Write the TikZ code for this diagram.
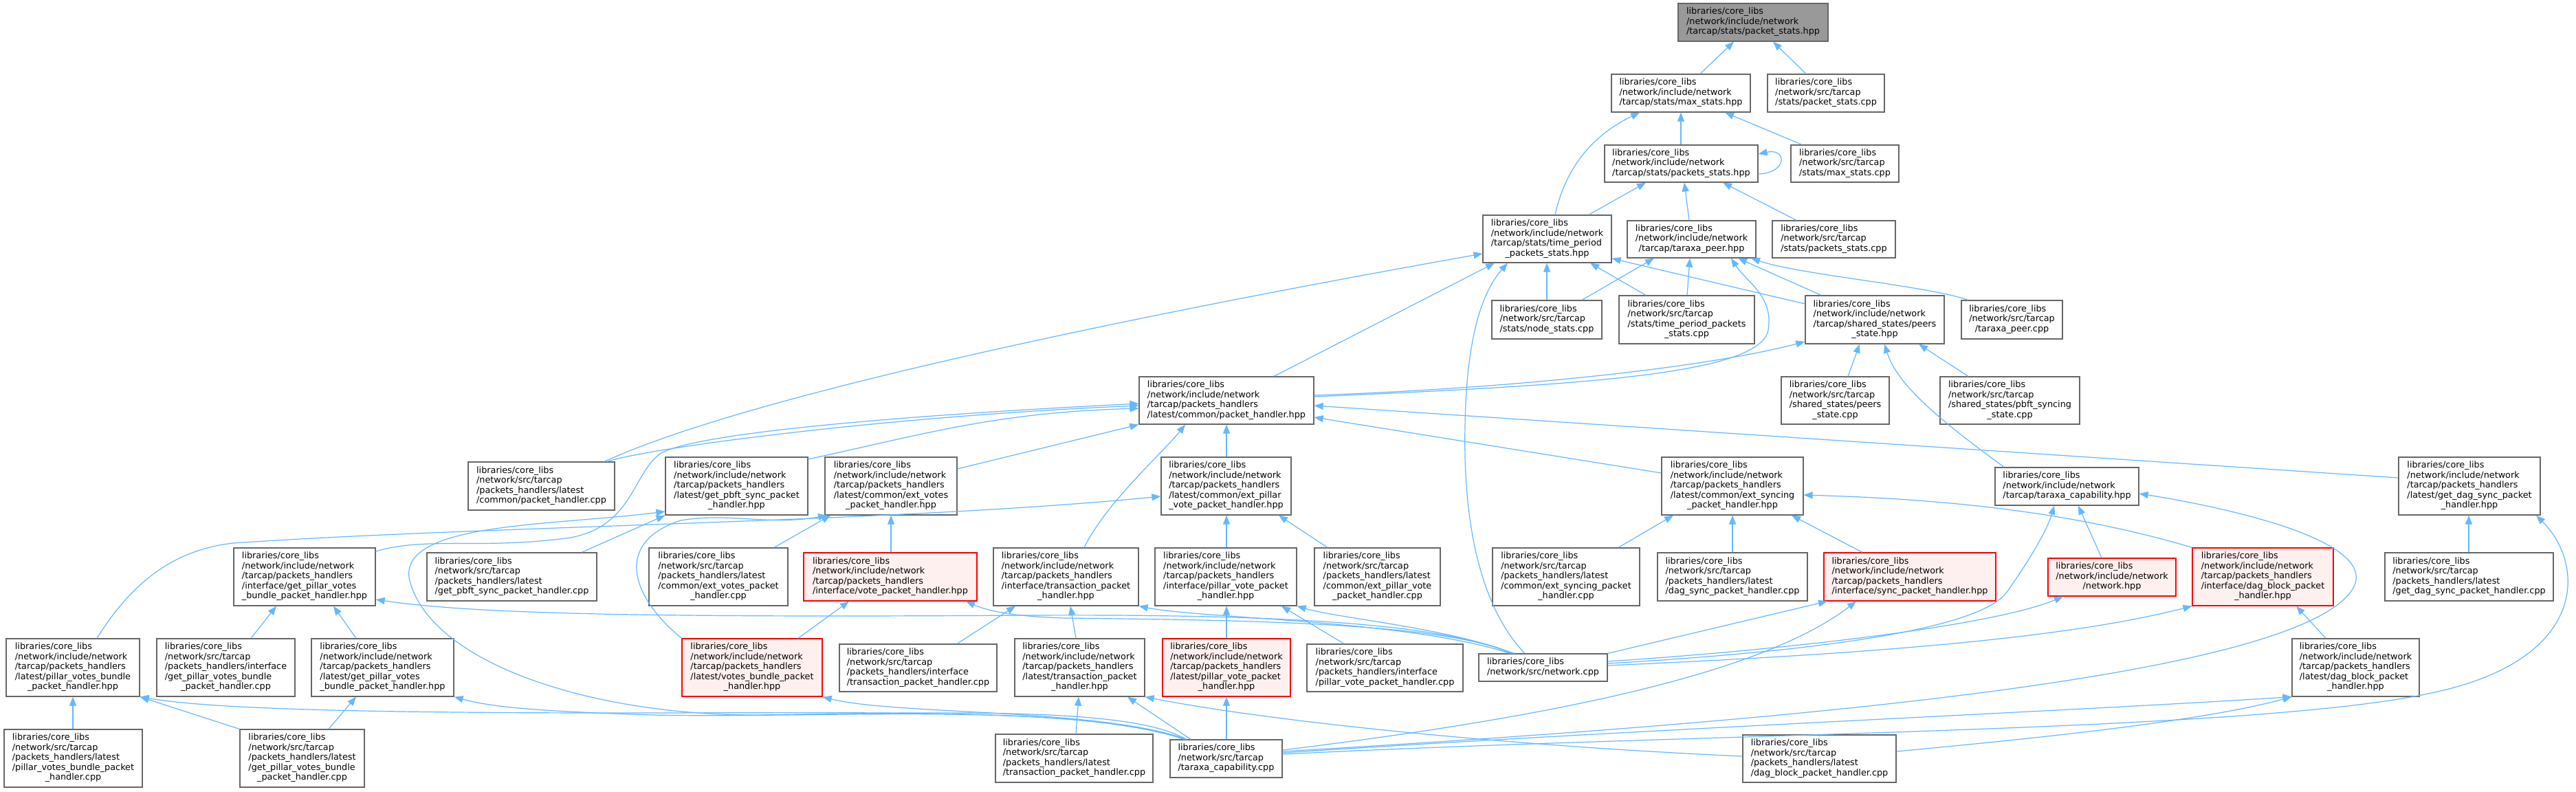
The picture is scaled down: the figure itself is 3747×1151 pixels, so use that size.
\documentclass[tikz,border=0pt]{standalone}
\usepackage{fontspec}
\setmainfont{DejaVu Sans}
\usetikzlibrary{arrows.meta}
\definecolor{dgray}{HTML}{666666}
\definecolor{rootgray}{HTML}{999999}
\definecolor{incfill}{HTML}{FFF0F0}
\definecolor{incdraw}{HTML}{FF0000}
\definecolor{edgeblue}{HTML}{63B8FF}
\newcommand{\nfont}{\fontsize{6.4}{7.25}\selectfont}
\newcommand{\lc}[1]{\multicolumn{1}{@{}c@{}}{#1}}
\newcommand{\tb}[1]{\begin{tabular}{@{}l@{}}#1\end{tabular}}
\newcommand{\Lcl}{libraries/core\_libs}
\newcommand{\Nin}{/network/include/network}
\newcommand{\Nst}{/network/src/tarcap}
\newcommand{\Tph}{/tarcap/packets\_handlers}
\newcommand{\bx}[7]{\pgfmathsetmacro\myBW{(#4-#2)*0.5}\pgfmathsetmacro\myBH{(#5-#3)*0.5}%
  \node[#6,minimum width=\myBW pt,minimum height=\myBH pt] (#1) at ({(#2+#4)/2},{(#3+#5)/2}) {#7};}
\tikzset{
  nb/.style={draw=dgray, fill=white, line width=0.6pt, inner sep=0pt, font=\nfont},
  rootbox/.style={nb, fill=rootgray},
  incbox/.style={nb, draw=incdraw, fill=incfill},
  dep/.style={draw=edgeblue, line width=0.6pt, -{Triangle[length=6.5pt,width=5pt]}}
}
\begin{document}
\begin{tikzpicture}[x=0.5pt,y=-0.5pt]
\fill[white] (0,0) rectangle (3747,1151);
\useasboundingbox (0,0) rectangle (3747,1151);
% nodes
\bx{n0}{2441}{5}{2659}{60}{rootbox}{\tb{\Lcl\\\Nin\\\lc{/tarcap/stats/packet\_stats.hpp}}}
\bx{n1}{2344}{108}{2546}{163}{nb}{\tb{\Lcl\\\Nin\\\lc{/tarcap/stats/max\_stats.hpp}}}
\bx{n2}{2571}{108}{2741}{163}{nb}{\tb{\Lcl\\\Nst\\\lc{/stats/packet\_stats.cpp}}}
\bx{n3}{2334}{211}{2557}{265}{nb}{\tb{\Lcl\\\Nin\\\lc{/tarcap/stats/packets\_stats.hpp}}}
\bx{n4}{2605}{211}{2762}{265}{nb}{\tb{\Lcl\\\Nst\\\lc{/stats/max\_stats.cpp}}}
\bx{n5}{2157}{313}{2344}{382}{nb}{\tb{\Lcl\\\Nin\\/tarcap/stats/time\_period\\\lc{\_packets\_stats.hpp}}}
\bx{n6}{2367}{321}{2554}{375}{nb}{\tb{\Lcl\\\Nin\\\lc{/tarcap/taraxa\_peer.hpp}}}
\bx{n7}{2578}{321}{2757}{375}{nb}{\tb{\Lcl\\\Nst\\\lc{/stats/packets\_stats.cpp}}}
\bx{n8}{2170}{437}{2330}{493}{nb}{\tb{\Lcl\\\Nst\\\lc{/stats/node\_stats.cpp}}}
\bx{n9}{2355}{430}{2552}{500}{nb}{\tb{\Lcl\\\Nst\\/stats/time\_period\_packets\\\lc{\_stats.cpp}}}
\bx{n10}{2626}{430}{2828}{500}{nb}{\tb{\Lcl\\\Nin\\/tarcap/shared\_states/peers\\\lc{\_state.hpp}}}
\bx{n11}{2853}{437}{3000}{493}{nb}{\tb{\Lcl\\\Nst\\\lc{/taraxa\_peer.cpp}}}
\bx{n12}{1657}{548}{1911}{617}{nb}{\tb{\Lcl\\\Nin\\\Tph\\\lc{/latest/common/packet\_handler.hpp}}}
\bx{n13}{2591}{548}{2748}{617}{nb}{\tb{\Lcl\\\Nst\\/shared\_states/peers\\\lc{\_state.cpp}}}
\bx{n14}{2822}{548}{3025}{617}{nb}{\tb{\Lcl\\\Nst\\/shared\_states/pbft\_syncing\\\lc{\_state.cpp}}}
\bx{n15}{681}{672}{894}{742}{nb}{\tb{\Lcl\\\Nst\\/packets\_handlers/latest\\\lc{/common/packet\_handler.cpp}}}
\bx{n16}{968}{665}{1175}{749}{nb}{\tb{\Lcl\\\Nin\\\Tph\\/latest/get\_pbft\_sync\_packet\\\lc{\_handler.hpp}}}
\bx{n17}{1200}{665}{1392}{749}{nb}{\tb{\Lcl\\\Nin\\\Tph\\/latest/common/ext\_votes\\\lc{\_packet\_handler.hpp}}}
\bx{n18}{1689}{665}{1878}{749}{nb}{\tb{\Lcl\\\Nin\\\Tph\\/latest/common/ext\_pillar\\\lc{\_vote\_packet\_handler.hpp}}}
\bx{n19}{2417}{665}{2623}{749}{nb}{\tb{\Lcl\\\Nin\\\Tph\\/latest/common/ext\_syncing\\\lc{\_packet\_handler.hpp}}}
\bx{n20}{2902}{680}{3111}{735}{nb}{\tb{\Lcl\\\Nin\\\lc{/tarcap/taraxa\_capability.hpp}}}
\bx{n21}{3489}{665}{3695}{749}{nb}{\tb{\Lcl\\\Nin\\\Tph\\/latest/get\_dag\_sync\_packet\\\lc{\_handler.hpp}}}
\bx{n22}{340}{797}{546}{881}{nb}{\tb{\Lcl\\\Nin\\\Tph\\/interface/get\_pillar\_votes\\\lc{\_bundle\_packet\_handler.hpp}}}
\bx{n23}{621}{804}{868}{874}{nb}{\tb{\Lcl\\\Nst\\/packets\_handlers/latest\\\lc{/get\_pbft\_sync\_packet\_handler.cpp}}}
\bx{n24}{944}{797}{1146}{881}{nb}{\tb{\Lcl\\\Nst\\/packets\_handlers/latest\\/common/ext\_votes\_packet\\\lc{\_handler.cpp}}}
\bx{n25}{1169}{804}{1421}{874}{incbox}{\tb{\Lcl\\\Nin\\\Tph\\\lc{/interface/vote\_packet\_handler.hpp}}}
\bx{n26}{1445}{797}{1656}{881}{nb}{\tb{\Lcl\\\Nin\\\Tph\\/interface/transaction\_packet\\\lc{\_handler.hpp}}}
\bx{n27}{1680}{797}{1886}{881}{nb}{\tb{\Lcl\\\Nin\\\Tph\\/interface/pillar\_vote\_packet\\\lc{\_handler.hpp}}}
\bx{n28}{1912}{797}{2095}{881}{nb}{\tb{\Lcl\\\Nst\\/packets\_handlers/latest\\/common/ext\_pillar\_vote\\\lc{\_packet\_handler.cpp}}}
\bx{n29}{2171}{797}{2385}{881}{nb}{\tb{\Lcl\\\Nst\\/packets\_handlers/latest\\/common/ext\_syncing\_packet\\\lc{\_handler.cpp}}}
\bx{n30}{2411}{804}{2629}{874}{nb}{\tb{\Lcl\\\Nst\\/packets\_handlers/latest\\\lc{/dag\_sync\_packet\_handler.cpp}}}
\bx{n31}{2653}{804}{2903}{874}{incbox}{\tb{\Lcl\\\Nin\\\Tph\\\lc{/interface/sync\_packet\_handler.hpp}}}
\bx{n32}{2979}{812}{3165}{867}{incbox}{\tb{\Lcl\\\Nin\\\lc{/network.hpp}}}
\bx{n33}{3189}{797}{3394}{881}{incbox}{\tb{\Lcl\\\Nin\\\Tph\\/interface/dag\_block\_packet\\\lc{\_handler.hpp}}}
\bx{n34}{3469}{804}{3714}{874}{nb}{\tb{\Lcl\\\Nst\\/packets\_handlers/latest\\\lc{/get\_dag\_sync\_packet\_handler.cpp}}}
\bx{n35}{9}{929}{203}{1013}{nb}{\tb{\Lcl\\\Nin\\\Tph\\/latest/pillar\_votes\_bundle\\\lc{\_packet\_handler.hpp}}}
\bx{n36}{228}{929}{429}{1013}{nb}{\tb{\Lcl\\\Nst\\/packets\_handlers/interface\\/get\_pillar\_votes\_bundle\\\lc{\_packet\_handler.cpp}}}
\bx{n37}{453}{929}{660}{1013}{nb}{\tb{\Lcl\\\Nin\\\Tph\\/latest/get\_pillar\_votes\\\lc{\_bundle\_packet\_handler.hpp}}}
\bx{n38}{992}{929}{1196}{1013}{incbox}{\tb{\Lcl\\\Nin\\\Tph\\/latest/votes\_bundle\_packet\\\lc{\_handler.hpp}}}
\bx{n39}{1221}{937}{1450}{1006}{nb}{\tb{\Lcl\\\Nst\\/packets\_handlers/interface\\\lc{/transaction\_packet\_handler.cpp}}}
\bx{n40}{1476}{929}{1665}{1013}{nb}{\tb{\Lcl\\\Nin\\\Tph\\/latest/transaction\_packet\\\lc{\_handler.hpp}}}
\bx{n41}{1691}{929}{1877}{1013}{incbox}{\tb{\Lcl\\\Nin\\\Tph\\/latest/pillar\_vote\_packet\\\lc{\_handler.hpp}}}
\bx{n42}{1901}{937}{2128}{1006}{nb}{\tb{\Lcl\\\Nst\\/packets\_handlers/interface\\\lc{/pillar\_vote\_packet\_handler.cpp}}}
\bx{n43}{2151}{951}{2338}{991}{nb}{\tb{\Lcl\\\lc{/network/src/network.cpp}}}
\bx{n44}{3334}{929}{3519}{1013}{nb}{\tb{\Lcl\\\Nin\\\Tph\\/latest/dag\_block\_packet\\\lc{\_handler.hpp}}}
\bx{n45}{6}{1061}{207}{1145}{nb}{\tb{\Lcl\\\Nst\\/packets\_handlers/latest\\/pillar\_votes\_bundle\_packet\\\lc{\_handler.cpp}}}
\bx{n46}{349}{1061}{530}{1145}{nb}{\tb{\Lcl\\\Nst\\/packets\_handlers/latest\\/get\_pillar\_votes\_bundle\\\lc{\_packet\_handler.cpp}}}
\bx{n47}{1448}{1068}{1677}{1138}{nb}{\tb{\Lcl\\\Nst\\/packets\_handlers/latest\\\lc{/transaction\_packet\_handler.cpp}}}
\bx{n48}{1702}{1076}{1865}{1131}{nb}{\tb{\Lcl\\\Nst\\\lc{/taraxa\_capability.cpp}}}
\bx{n49}{2535}{1069}{2758}{1138}{nb}{\tb{\Lcl\\\Nst\\/packets\_handlers/latest\\\lc{/dag\_block\_packet\_handler.cpp}}}
% edges: top part
\draw[dep] (n1.north -| 2473,0) -- (n0.south -| 2522,0);
\draw[dep] (n2.north -| 2627,0) -- (n0.south -| 2579,0);
\draw[dep] (n3.north -| 2445,0) -- (n1.south -| 2445,0);
\draw[dep] (n4.north -| 2621,0) -- (n1.south -| 2509,0);
\draw[dep] (n5.north -| 2262,0) .. controls (2278,240) and (2320,195) .. (n1.south -| 2385,0);
\draw[dep] (n3.east |- 0,253) .. controls (2600,252) and (2600,215) .. (n3.east |- 0,224);
\draw[dep] (n5.north -| 2311,0) -- (n3.south -| 2394,0);
\draw[dep] (n6.north -| 2457,0) -- (n3.south -| 2450,0);
\draw[dep] (n7.north -| 2613,0) -- (n3.south -| 2506,0);
% into time_period
\draw[dep] (n15.north -| 879,0) .. controls (1100,570) and (1700,450) .. (n5.west |- 0,369);
\draw[dep] (n12.north -| 1853,0) -- (n5.south -| 2174,0);
\draw[dep] (n43.north -| 2218,0) .. controls (2150,880) and (2128,750) .. (2131,620) .. controls (2133,480) and (2160,420) .. (n5.south -| 2193,0);
\draw[dep] (n8.north -| 2250,0) -- (n5.south -| 2250,0);
\draw[dep] (n9.north -| 2394,0) -- (n5.south -| 2313,0);
\draw[dep] (n10.west |- 0,442) -- (n5.east |- 0,376);
% into taraxa_peer
\draw[dep] (n8.north -| 2301,0) -- (n6.south -| 2406,0);
\draw[dep] (n9.north -| 2454,0) -- (n6.south -| 2458,0);
\draw[dep] (n12.east |- 0,577) .. controls (2300,560) and (2560,545) .. (2572,480) .. controls (2580,430) and (2540,410) .. (n6.south -| 2518,0);
\draw[dep] (n10.north -| 2649,0) -- (n6.south -| 2528,0);
\draw[dep] (n11.north -| 2863,0) .. controls (2800,415) and (2620,400) .. (n6.south -| 2547,0);
% into peers_state
\draw[dep] (n12.east |- 0,575) .. controls (2200,565) and (2480,535) .. (n10.west |- 0,497);
\draw[dep] (n13.north -| 2688,0) -- (n10.south -| 2705,0);
\draw[dep] (n20.north -| 2915,0) .. controls (2820,610) and (2760,560) .. (n10.south -| 2741,0);
\draw[dep] (n14.north -| 2863,0) -- (n10.south -| 2791,0);
% into packet_handler.hpp
\draw[dep] (n15.north -| 883,0) .. controls (950,650) and (1300,605) .. (n12.west |- 0,590);
\draw[dep] (n16.east |- 0,668) .. controls (1350,630) and (1450,600) .. (n12.west |- 0,594);
\draw[dep] (n22.east |- 0,802) .. controls (620,780) and (700,800) .. (830,782) .. controls (920,765) and (920,690) .. (960,660) .. controls (1010,630) and (1300,605) .. (n12.west |- 0,587);
\draw[dep] (n17.east |- 0,682) -- (n12.south west);
\draw[dep] (n18.north -| 1784,0) -- (n12.south -| 1784,0);
\draw[dep] (n26.north -| 1577,0) .. controls (1610,730) and (1690,660) .. (n12.south -| 1724,0);
\draw[dep] (n19.west |- 0,688) -- (n12.east |- 0,607);
\draw[dep] (n21.west |- 0,695) -- (n12.east |- 0,590);
% into ext_pillar_vote
\draw[dep] (n35.north -| 141,0) .. controls (190,850) and (250,800) .. (339,790) .. controls (700,765) and (1300,760) .. (n18.west |- 0,722);
\draw[dep] (n27.north -| 1784,0) -- (n18.south -| 1784,0);
\draw[dep] (n28.north -| 1931,0) -- (n18.south -| 1860,0);
% into ext_votes
\draw[dep] (n25.north -| 1296,0) -- (n17.south -| 1296,0);
\draw[dep] (n24.north -| 1126,0) -- (n17.south -| 1208,0);
\draw[dep] (n38.north west) .. controls (920,870) and (890,790) .. (990,757) .. controls (1060,745) and (1120,765) .. (n17.south -| 1203,0);
% into get_pbft_sync hpp
\draw[dep] (n23.north -| 846,0) -- (n16.south west);
\draw[dep] (n48.north -| 1725,0) .. controls (1650,1030) and (1400,1035) .. (1100,1040) .. controls (850,1040) and (620,960) .. (595,840) .. controls (585,760) and (800,765) .. (n16.west |- 0,744);
% into interface get_pillar_votes
\draw[dep] (n36.north -| 365,0) -- (n22.south -| 402,0);
\draw[dep] (n37.north -| 518,0) -- (n22.south -| 485,0);
\draw[dep] (n43.north -| 2200,0) .. controls (2100,910) and (1900,893) .. (1500,895) .. controls (1000,898) and (700,895) .. (n22.east |- 0,872);
% network.cpp into interface handlers
\draw[dep] (n43.north -| 2198,0) .. controls (2100,905) and (1800,902) .. (1550,899) .. controls (1480,897) and (1440,890) .. (n25.south -| 1405,0);
\draw[dep] (n43.north -| 2196,0) .. controls (2050,902) and (1750,900) .. (n26.south east);
\draw[dep] (n43.north -| 2202,0) .. controls (2100,912) and (1950,900) .. (n27.south east);
\draw[dep] (n42.north -| 1955,0) -- (n27.south -| 1864,0);
\draw[dep] (n41.north -| 1784,0) -- (n27.south -| 1784,0);
\draw[dep] (n40.north -| 1565,0) -- (n26.south -| 1557,0);
\draw[dep] (n39.north -| 1392,0) -- (n26.south -| 1477,0);
\draw[dep] (n38.north -| 1161,0) -- (n25.south -| 1235,0);
% into ext_syncing
\draw[dep] (n29.north -| 2354,0) -- (n19.south -| 2434,0);
\draw[dep] (n30.north -| 2520,0) -- (n19.south -| 2520,0);
\draw[dep] (n31.north -| 2709,0) -- (n19.south -| 2606,0);
\draw[dep] (n33.north west) .. controls (3000,740) and (2800,725) .. (n19.east |- 0,720);
% into taraxa_capability.hpp
\draw[dep] (n43.east |- 0,965) .. controls (2600,950) and (2880,920) .. (2920,860) .. controls (2955,810) and (2978,770) .. (n20.south -| 2988,0);
\draw[dep] (n32.north -| 3057,0) -- (n20.south -| 3023,0);
\draw[dep] (n48.east |- 0,1093) .. controls (2600,1050) and (3330,985) .. (3420,860) .. controls (3470,790) and (3250,740) .. (n20.east |- 0,718);
% into sync, network.hpp, dag_block interface
\draw[dep] (n43.north east) -- (n31.south -| 2658,0);
\draw[dep] (n48.east |- 0,1091) .. controls (2200,1050) and (2550,990) .. (n31.south -| 2700,0);
\draw[dep] (n43.east |- 0,962) .. controls (2600,945) and (2900,910) .. (n32.south -| 3001,0);
\draw[dep] (n43.east |- 0,968) .. controls (2700,952) and (3000,930) .. (n33.south west);
\draw[dep] (n44.north -| 3383,0) -- (n33.south -| 3340,0);
% into dag_block latest
\draw[dep] (n48.east |- 0,1095) .. controls (2400,1060) and (3000,1035) .. (n44.south west);
\draw[dep] (n49.east |- 0,1093) .. controls (2950,1075) and (3200,1050) .. (n44.south west);
% into get_dag_sync
\draw[dep] (n34.north -| 3591,0) -- (n21.south -| 3591,0);
\draw[dep] (n48.east |- 0,1097) .. controls (2500,1065) and (3300,1065) .. (3550,1005) .. controls (3765,955) and (3760,820) .. (n21.south -| 3689,0);
% into latest transaction / pillar vote
\draw[dep] (n47.north -| 1565,0) -- (n40.south -| 1569,0);
\draw[dep] (n48.north -| 1732,0) -- (n40.south -| 1640,0);
\draw[dep] (n49.west |- 0,1100) .. controls (2200,1085) and (1850,1050) .. (n40.south east);
\draw[dep] (n48.north -| 1784,0) -- (n41.south -| 1784,0);
% bottom left
\draw[dep] (n45.north -| 106,0) -- (n35.south -| 106,0);
\draw[dep] (n46.north west) -- (n35.south east);
\draw[dep] (n48.north -| 1722,0) .. controls (1600,1030) and (1300,1037) .. (900,1037) .. controls (500,1037) and (300,1030) .. (n35.south east);
\draw[dep] (n46.north -| 478,0) -- (n37.south -| 518,0);
\draw[dep] (n48.north -| 1724,0) .. controls (1550,1020) and (1200,1045) .. (950,1040) .. controls (800,1035) and (720,1030) .. (n37.south east);
\draw[dep] (n48.north -| 1726,0) .. controls (1600,1030) and (1300,1040) .. (n38.south east);
\end{tikzpicture}
\end{document}
